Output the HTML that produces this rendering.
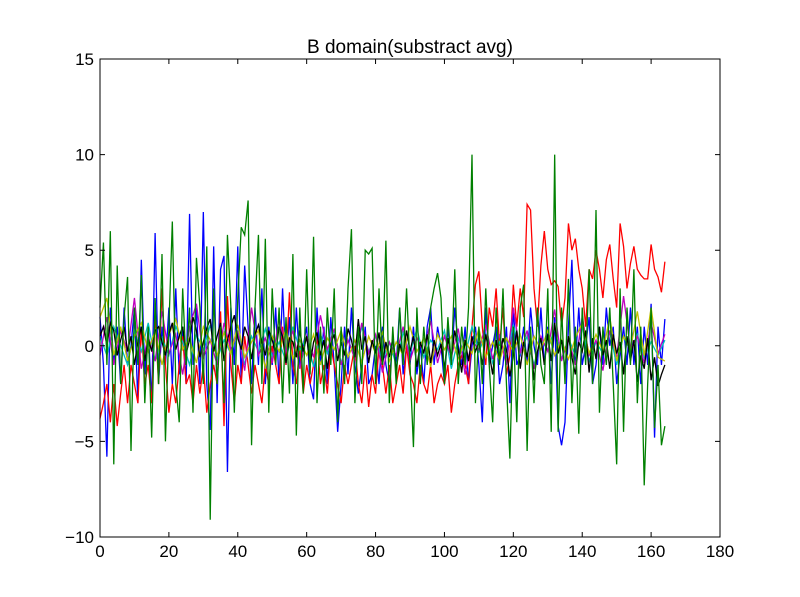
<!DOCTYPE html>
<html><head><meta charset="utf-8"><style>
html,body{margin:0;padding:0;background:#fff;}
svg{display:block;font-family:"Liberation Sans","DejaVu Sans",sans-serif;}
</style></head><body>
<svg id="chart" width="800" height="597" viewBox="0 0 800 597">
<rect width="800" height="597" fill="#fff"/>
<text x="410" y="53" text-anchor="middle" font-size="19">B domain(substract avg)</text>
<g id="series"></g>
<rect x="100" y="59" width="620" height="478" fill="none" stroke="#000" stroke-width="1"/>
<g id="axes"></g>
</svg>
<script>
const xTicks = [0,20,40,60,80,100,120,140,160,180];
const yTicks = [-10,-5,0,5,10,15];
const yTickLabels = ["\u221210","\u22125","0","5","10","15"];
const seriesColors = ["#0000ff","#008000","#ff0000","#00bfbf","#bf00bf","#bfbf00","#000000"];
const seriesNames = ["blue","green","red","cyan","magenta","yellow","black"];
const seriesStep = [1,1,1,2,2,2,1];
const blueVals = [1.5,-1,-5.8,2,-1,1,-2,2,-1,0,2,-3,4.5,-1.5,1,-3,5.9,-2,1,-1,2,-2,3,-1.5,1,-2,6.9,-1,2,-2,7,-2,-4.4,5.2,-3,4,4.7,-6.6,2,-1,5.2,-2,4.2,1,-2,2,-1,3,-2,1,-1,2,-2,3,-1,1.5,-2,2,-1,0,1,-2,-2.8,2,-1,1,-2,1.5,-1,-4.5,-2,1,-1.5,2,-1,-2.5,-1,1,-2,-1.5,0,-2,1,-1,-2,0.5,-1,2,-1.5,0,-1,1,-1.5,0,-2,1,2,-1,1,0,-2,1,-1,2,0,-1,1,-2,0,1,-1,-4,2,-1,0,1,-2,-1,1,-3,2,-1,-0.5,1,-1,2,0,-1,2,-1,1,-2,1.5,-4.2,-5.2,-4,1,4.5,-1,2,-1,0,1.5,-2,-1,1,-1,2,0,1,-2,-0.5,1,-1,2,-1,1,-2,1,-1,2.2,-4.8,1,-1,1.4];
const greenVals = [2,5.4,-1,6,-6.2,4.2,-2,1.5,3.6,-5.5,2,-1,3.7,-3,1,-4.8,2.5,-2,4.8,-5,1,6.5,-2,-4,3,-1,2,-3.5,4.6,2,-2,5.2,-9.1,3,-2,1,-3,5.8,2,-3.5,2.5,6.2,5.8,7.6,-5.2,2,5.8,-2,5.6,-3.5,3,-1,2,-3,1.5,-2.5,4.8,-4.7,2,-2.5,4,-1.5,5.7,-3,1,-2.5,2,-1,3,-4,1,-2,3,6.1,-3,1,-2,5,4.8,5.1,-2,3,-1,5.5,-3,1,-2,2,-1,3,-1,-5.3,2,-2,1,-1,2,3,3.8,2.5,-2,1.5,-1,4,-2,1,-1,2,10,-3,1,-2,3,-1,-4,2,-1,3,-2,-5.9,1,-4,2,3.2,-5.5,1,-3,2,-1,-2,3,-4.5,10,-4.5,2,-2,3.5,-3,1,-4.6,2,-1,4,-2,7.1,-3.5,1,-1,2,-2,-6.2,3,-4.5,2,-1,4,-3,1,-7.3,-2,2,-4.3,-1,-5.2,-4.2];
const redVals = [-3.8,-3,-2,-4,-2,-4.2,-2.5,-1,-3,-1,-2,-3,1,-2,-1,-3,1.5,-2,3,-1,-3.5,-2,-3,-1,0.5,-2,-1.5,-3,-1,-2.5,-1,-3.5,-2,-1,-2,1.8,-4.2,2.6,-1,-3,-1,-2,0.5,-1,-2.5,-1,-2,-3,-1,-2,0,-1,-2,1,-1,2.8,-1,-2,0,-2.5,-1,-2,-1,0.5,-2,-1,-2.5,0,-1,-2,-3,-1,-2,-1,0,-2,-3,-1,-3.2,-1.5,-2.5,0,-1,-2.5,-1,-3,-2,-1,-2.5,0,-1.5,-2,-3,-1,-2,-2.5,-1,-3,-2,-1.5,-2,-1,-3.5,-2,-1,-0.5,-1,-2,1,3.2,3.9,1,-1,2,1,3,0,2,-1.5,-0.5,3.2,1,3,1.5,7.4,7.1,3,1,4.2,6,4,3.2,3.4,3.1,1,2.5,6.4,5,5.6,4,3,1,4,3.5,5,4,2.5,4.5,5.3,3.5,2,6.4,5.2,3,4.3,5.2,4,3.7,3.5,3.5,5.3,4,3.6,2.8,4.4];
const cyanVals = [0.5,-0.5,1,0,-1,0.8,-0.3,1.2,-0.8,0.4,-0.5,1,0.2,-1,0.6,-0.2,1.1,-0.7,0.3,-0.4,0.8,-1,0.5,-0.3,0.9,-0.6,0.2,-0.8,1,-0.2,0.4,-1.1,0.6,-0.4,0.8,-0.9,0.3,-0.5,1,-0.3,0.5,-0.8,0.2,-1,0.7,-0.4,0.9,-0.6,0.3,-0.2,0.8,-1.2,0.4,-0.5,1,-0.3,0.6,-0.9,0.2,-0.6,1.1,-0.4,0.5,-1,0.3,-0.2,0.9,-0.7,0.4,-0.5,1,-0.8,0.2,-0.4,0.7,-1,0.5,-0.3,0.6,-0.6,0.2,-0.5,0.3];
const magentaVals = [-0.5,1.5,-1,0.8,-0.3,2.5,-1.2,0.5,-0.8,1.8,-0.4,0.6,-1.5,1,2.2,-0.6,0.3,-1,1.2,-0.2,0.7,-1.3,2,-0.5,0.4,-0.9,1.5,-0.3,0.8,-1.2,0.5,-0.6,1.6,-0.2,0.9,-1,0.3,-0.7,1.2,-0.4,0.6,-1.4,0.2,-0.5,1,-0.8,0.4,-0.3,1.3,-0.9,0.5,-0.6,0.9,-1.5,0.3,-0.2,1.1,-0.7,0.6,-1,2,-0.4,0.8,-1.2,0.5,-0.3,1.9,-0.8,0.4,-1,1.5,-0.5,0.3,-1.3,0.8,-0.6,2.6,-0.2,0.5,-0.9,1.2,-0.4,0.6];
const yellowVals = [1.5,2.5,-0.5,1,-0.8,0.5,1.2,-0.3,0.8,-1,0.6,1.4,-0.2,0.4,-0.9,1,0.3,-0.5,0.7,-0.4,1.1,-0.6,0.2,0.8,-1.2,0.5,-0.3,0.9,-0.7,0.3,-0.5,0.6,-1,0.4,-0.2,0.8,-0.6,0.3,-0.9,0.5,-0.4,0.7,-0.8,0.2,-0.5,1,-0.3,0.4,-1.1,0.6,-0.2,0.5,-0.7,0.3,-0.4,0.9,-0.6,0.2,-0.8,0.4,-0.3,0.6,-1,0.5,-0.2,0.8,-0.5,0.3,-0.7,0.4,1.2,-0.4,0.6,-0.3,1.5,-0.8,0.5,-0.2,1.8,-0.5,2,-0.6,-0.8];
const blackVals = [0.5,1,0,1.2,0.8,-0.5,0.3,1,-0.3,0.5,-1,0.2,1,-0.8,0.4,-0.3,0.8,1,0.2,-0.5,0.6,1.2,-0.2,0.5,1,-0.4,0.3,1.5,0.8,-0.6,0.2,0.9,1.4,-0.3,0.5,1.2,-0.8,0.3,1,1.6,0.4,-0.2,1,0.5,-0.7,0.6,1.1,0.2,-0.5,0.8,0.3,-0.4,1,0.5,-0.9,0.4,0.2,-0.6,0.8,-0.3,0.5,-1,0.2,0.7,-0.5,0.3,-1.2,0.1,0.6,-0.8,0.2,-0.5,0.9,0.3,-0.6,1.4,-0.2,0.5,-0.9,0.3,-0.4,0.7,-1,0.2,-0.6,0.4,-1.3,0.1,-0.5,0.8,-0.3,0.5,-1.1,0.2,-0.4,0.6,-0.9,0.3,-0.5,0.1,-1.2,0.4,-0.6,0.8,-0.2,-1.4,0.3,-0.8,0.5,-0.3,0.2,-1,0.6,-0.4,-1.5,0.3,-0.7,0.4,-0.2,-1.6,-0.5,0.8,-1.2,0.2,-0.6,0.5,-1.8,-0.3,0.4,-1,0.6,-0.8,1.2,-0.4,0.3,-1.2,0.5,-0.6,-1.5,0.2,-0.3,0.8,-1.4,0.4,-0.7,1,-0.5,0.3,-1.2,0.6,-0.4,0.2,-1.5,0.5,-0.8,0.3,-1.9,-0.5,-1.2,0.4,-1.8,-0.6,-2.1,-1.5,-1];
const allSeries = [blueVals,greenVals,redVals,cyanVals,magentaVals,yellowVals,blackVals];

const PL=100, PR=720, PT=59, PB=537, XMIN=0, XMAX=180, YMIN=-10, YMAX=15;
function xScale(v){return PL+(v-XMIN)/(XMAX-XMIN)*(PR-PL);}
function yScale(v){return PB-(v-YMIN)/(YMAX-YMIN)*(PB-PT);}
const NS="http://www.w3.org/2000/svg";
const sg=document.getElementById('series');
const drawOrder=[0,2,3,4,5,6,1];
drawOrder.forEach(function(si){
  const vals=allSeries[si];
  const pts=vals.map(function(v,i){return xScale(i*seriesStep[si]).toFixed(2)+","+yScale(v).toFixed(2);}).join(" ");
  const pl=document.createElementNS(NS,'polyline');
  pl.setAttribute('points',pts);
  pl.setAttribute('fill','none');
  pl.setAttribute('stroke',seriesColors[si]);
  pl.setAttribute('stroke-width','1.3');
  
  
  sg.appendChild(pl);
});
const ax=document.getElementById('axes');
xTicks.forEach(function(t){
  const x=xScale(t);
  const l=document.createElementNS(NS,'path');
  l.setAttribute('d','M'+x+','+PB+'v-5M'+x+','+PT+'v5');
  l.setAttribute('stroke','#000');
  
  
  ax.appendChild(l);
  const tx=document.createElementNS(NS,'text');
  tx.setAttribute('x',x);tx.setAttribute('y',PB+20);
  tx.setAttribute('text-anchor','middle');tx.setAttribute('font-size','17');
  tx.textContent=String(t);
  
  
  ax.appendChild(tx);
});
yTicks.forEach(function(t,i){
  const y=yScale(t);
  const l=document.createElementNS(NS,'path');
  l.setAttribute('d','M'+PL+','+y+'h5M'+PR+','+y+'h-5');
  l.setAttribute('stroke','#000');
  
  
  ax.appendChild(l);
  const tx=document.createElementNS(NS,'text');
  tx.setAttribute('x',PL-6);tx.setAttribute('y',y+6);
  tx.setAttribute('text-anchor','end');tx.setAttribute('font-size','17');
  tx.textContent=yTickLabels[i];
  
  
  ax.appendChild(tx);
});
</script>
</body></html>
